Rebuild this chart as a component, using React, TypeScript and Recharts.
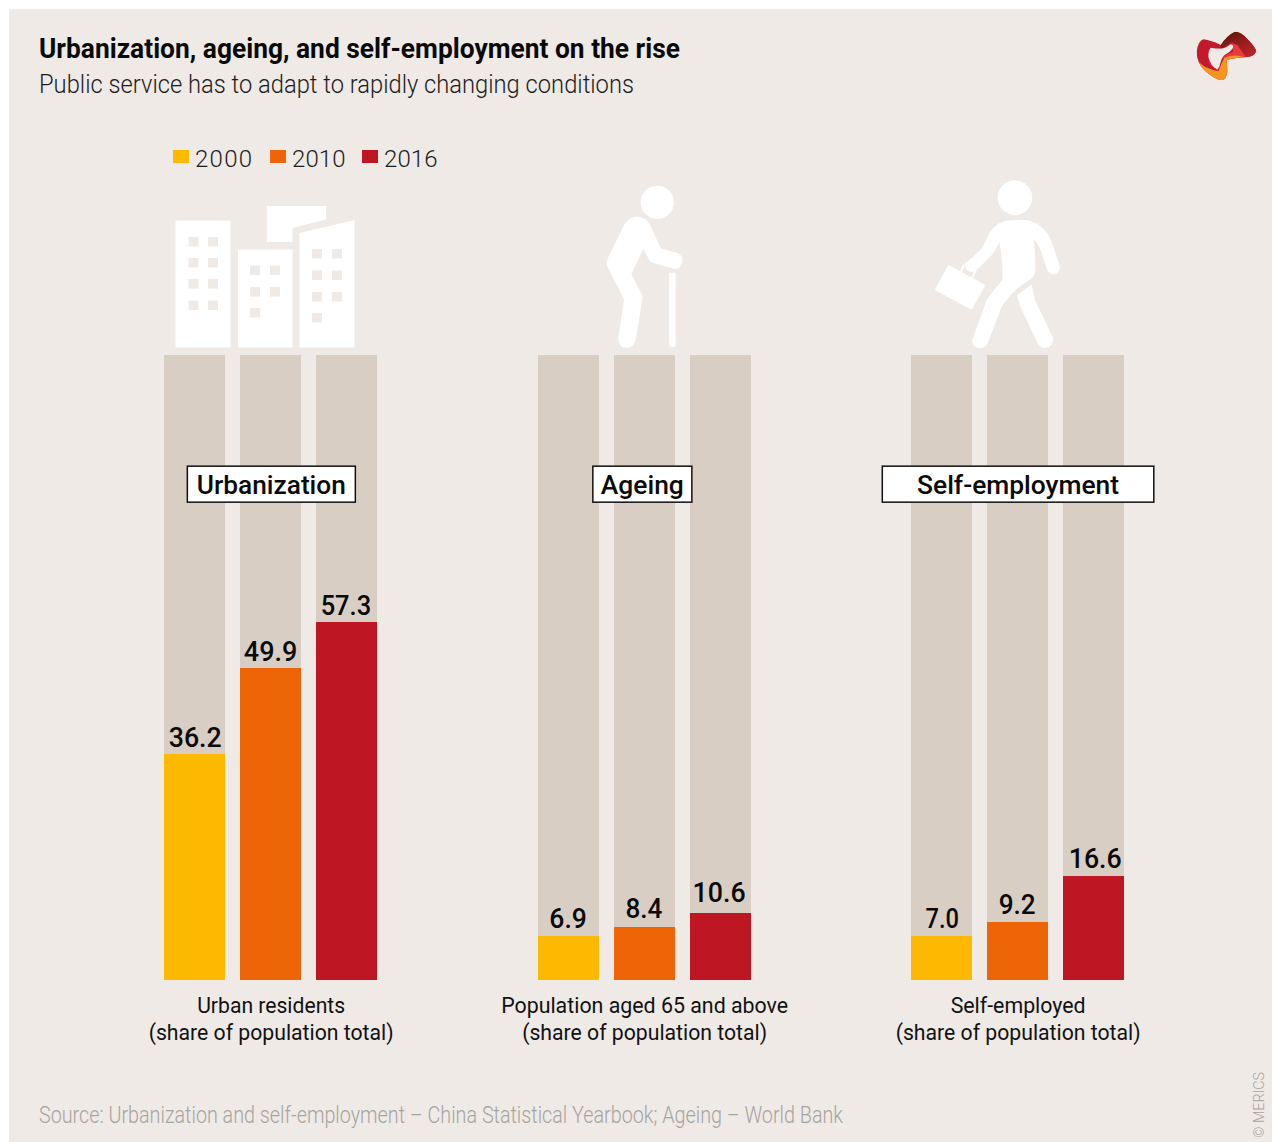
import React from 'react';
import { BarChart, Bar, XAxis, YAxis, Legend, LabelList, ReferenceDot } from 'recharts';

// Indicators (share of population total, percent)
const categories = ['Urbanization', 'Ageing', 'Self-employment'];
const values2000 = [36.2, 6.9, 7.0];
const values2010 = [49.9, 8.4, 9.2];
const values2016 = [57.3, 10.6, 16.6];
const axisLines: Record<string, string[]> = {
  Urbanization: ['Urban residents', '(share of population total)'],
  Ageing: ['Population aged 65 and above', '(share of population total)'],
  'Self-employment': ['Self-employed', '(share of population total)'],
};

const rows = categories.map((name, i) => ({
  name,
  y2000: values2000[i],
  y2010: values2010[i],
  y2016: values2016[i],
}));

const W = 1272;
const H = 1142;
const PAPER = '#efeae6';
const TRACK = '#d8cec4';
const YELLOW = '#fdb900';
const ORANGE = '#ee6508';
const RED = '#be1622';
const FONT = 'Roboto, sans-serif';

// Text squeezed to a set run length: the house face is much narrower than Roboto.
const Fit = ({ x, y, len, size, weight = 400, fill = '#111', anchor = 'start', children, ...rest }: any) => (
  <text
    x={x}
    y={y}
    textLength={len}
    lengthAdjust="spacingAndGlyphs"
    fontFamily={FONT}
    fontSize={size}
    fontWeight={weight}
    fill={fill}
    textAnchor={anchor}
    {...rest}
  >
    {children}
  </text>
);

const lineWidths: Record<string, number> = {
  'Urban residents': 148,
  'Population aged 65 and above': 287,
  'Self-employed': 135,
  '(share of population total)': 245,
};

const AxisTick = ({ x, y, payload }: any) => {
  const lines = axisLines[payload.value] ?? [];
  return (
    <g>
      {lines.map((line, i) => (
        <Fit key={line} x={x} y={y + 33.8 + i * 26.8} len={lineWidths[line]} size={22.5} anchor="middle">
          {line}
        </Fit>
      ))}
    </g>
  );
};

// Value labels sit by hand above their bars; the gap and sideways shift vary a little per label.
const labelSetting: Record<string, { gap: number; dx: number; len: number }> = {
  '36.2': { gap: 7.3, dx: 0.3, len: 53 },
  '6.9': { gap: 8.3, dx: -0.3, len: 37.5 },
  '7.0': { gap: 7.7, dx: 0.3, len: 33.5 },
  '49.9': { gap: 7.3, dx: -0.3, len: 53.5 },
  '8.4': { gap: 8.7, dx: -0.5, len: 37 },
  '9.2': { gap: 8, dx: -0.7, len: 37 },
  '57.3': { gap: 7, dx: -1, len: 50.5 },
  '10.6': { gap: 10.7, dx: -1.3, len: 53 },
  '16.6': { gap: 7.7, dx: 1.3, len: 53 },
};

const ValueLabel = ({ x, y, width, value }: any) => {
  const text = Number(value).toFixed(1);
  const s = labelSetting[text];
  return (
    <Fit
      x={x + width / 2 + s.dx}
      y={Math.round(y) - s.gap}
      len={s.len}
      size={27.5}
      weight={500}
      anchor="middle"
      fill="#0a0a0a"
    >
      {text}
    </Fit>
  );
};

const badgeBoxes: Record<string, { w: number; text: number; dx: number }> = {
  Urbanization: { w: 168, text: 149, dx: 0.2 },
  Ageing: { w: 99, text: 83, dx: -2.3 },
  'Self-employment': { w: 271.5, text: 202, dx: -0.1 },
};

const badgeShape = (name: string) => ({ cx, cy }: any) => {
  const box = badgeBoxes[name];
  const mid = cx + box.dx;
  return (
    <g>
      <rect x={mid - box.w / 2} y={cy - 18} width={box.w} height={36} fill="#fff" stroke="#111" strokeWidth={1.5} />
      <Fit x={mid} y={cy + 10} len={box.text} size={26} weight={500} anchor="middle" fill="#0a0a0a">
        {name}
      </Fit>
    </g>
  );
};

const legendSpacing = [1.3, 0.1, 0.1];

const YearLegend = ({ payload }: any) => (
  <div style={{ display: 'flex', fontFamily: FONT, fontWeight: 300, fontSize: 24, color: '#1c1c1c', lineHeight: '28px' }}>
    {(payload ?? []).map((item: any, i: number) => (
      <div key={item.value} style={{ display: 'flex', width: i === 0 ? 97 : 92 }}>
        <span style={{ width: 16, height: 13, marginTop: 5, background: item.color, marginRight: 6 }} />
        <span style={{ letterSpacing: legendSpacing[i] }}>{item.value}</span>
      </div>
    ))}
  </div>
);

const buildingWindows = [
  [188.5, 237], [208, 237], [188.5, 258], [208, 258], [188.5, 279], [208, 279], [188.5, 300.5], [208, 300.5],
  [250, 265.5], [270, 265.5], [250, 287], [270, 287], [250, 308],
  [312, 249], [332, 249], [312, 270.5], [332, 270.5], [312, 292], [332, 292], [312, 313],
];

const Buildings = () => (
  <g fill="#fff">
    <rect x={175.5} y={220.5} width={55} height={127} />
    <rect x={238} y={249.5} width={54.5} height={98} />
    <path d="M299.5 233 L354.5 220 V347.5 H299.5 Z" />
    <path d="M267 206 H326 V219.5 L292.5 228 V242 H267 Z" />
    {buildingWindows.map(([x, y]) => (
      <rect key={`${x}-${y}`} x={x} y={y} width={10} height={9.5} fill={PAPER} />
    ))}
  </g>
);

const OldPerson = () => (
  <g transform="translate(590 170) scale(0.3333)" fill="#fff">
    <circle cx={202} cy={97} r={50} />
    <path d="M105 160 Q120 140 140 140 Q165 140 178 160 L212 235 L262 249 Q278 255 277 272 Q272 298 252 297 L190 279 Q178 275 175 265 L160 237 L124 312 L155 372 Q158 380 157 388 L138 505 Q134 533 112 533 Q84 533 85 505 L102 388 L52 290 Q48 280 52 268 Z" />
    <path d="M237 308 H257 V522 Q257 531 247 531 Q237 531 237 522 Z" />
  </g>
);

const Commuter = () => (
  <g transform="translate(590 170) scale(0.3333)" fill="#fff">
    <circle cx={1275} cy={83} r={52} />
    <path d="M1250 152 Q1280 149 1310 150 Q1340 155 1362 178 Q1378 195 1385 215 L1410 290 Q1410 312 1390 313 Q1376 312 1372 300 L1350 235 Q1342 218 1330 207 Q1337 240 1336 305 Q1335 315 1325 325 L1285 353 Q1255 378 1235 410 L1197 510 Q1190 535 1170 535 Q1145 532 1147 510 L1190 390 Q1210 360 1238 330 Q1238 265 1228 215 Q1220 235 1208 252 L1163 298 Q1150 312 1133 302 Q1124 295 1125 280 Q1155 258 1178 232 L1198 190 Q1220 155 1250 152 Z" />
    <path d="M1325 343 L1335 390 L1390 505 Q1390 533 1365 535 Q1350 533 1343 520 L1292 412 L1281 376 Z" />
    <path
      d="M1077 291 L1180 347 L1143 413 L1041 358 Z"
      stroke="#fff"
      strokeWidth={10}
      strokeLinejoin="round"
    />
    <path d="M1111 310 L1122 284 M1145 326 L1157 302" stroke="#fff" strokeWidth={6} fill="none" />
  </g>
);

// Ribbon-shaped company mark, built from coloured patches clipped to the ring outline.
const RING =
  'M20 80 Q24 48 40 43 Q65 46 92 60 Q110 32 135 20 Q155 20 172 42 Q200 70 198 80 Q192 95 165 97 Q130 98 110 106 Q112 120 112 140 Q108 165 93 166 Q70 160 45 137 Q20 115 20 80 Z ' +
  'M55 95 Q55 75 62 68 Q85 72 100 70 Q112 66 122 58 Q132 60 130 68 Q120 82 105 89 Q96 95 92 112 Q88 128 83 134 Q60 124 55 95 Z';

const Logo = () => (
  <g transform="translate(1190 25) scale(0.3333)">
    <defs>
      <clipPath id="logoRing">
        <path d={RING} clipRule="evenodd" />
      </clipPath>
      <linearGradient id="logoDark" x1="0.25" y1="0.05" x2="0.8" y2="0.95">
        <stop offset="0" stopColor="#5a1a08" />
        <stop offset="0.55" stopColor="#9f1d20" />
        <stop offset="1" stopColor="#c1202c" />
      </linearGradient>
    </defs>
    <g clipPath="url(#logoRing)">
      <rect x={15} y={15} width={190} height={155} fill="#c3192b" />
      <path d="M92 62 Q110 30 135 15 L205 60 L205 100 L165 97 L150 80 Q145 60 125 50 Q105 66 92 72 Z" fill="url(#logoDark)" />
      <path d="M126 55 L142 60 Q150 72 168 97 L108 107 L98 98 Q110 88 130 80 Z" fill="#e83a3f" />
      <path d="M54 112 Q64 130 86 138 L92 125 L84 128 Q66 122 58 100 Z" fill="#e0174f" />
      <path d="M15 98 Q34 122 56 130 Q72 138 86 138 Q92 118 103 99 Q125 88 150 93 L172 100 L110 110 L120 175 L60 175 L15 130 Z" fill="#f7941d" />
    </g>
  </g>
);

export default function App() {
  return (
    <div style={{ position: 'absolute', left: 0, top: 0, width: W, height: H, background: '#fff', overflow: 'hidden' }}>
      <div style={{ position: 'absolute', left: 9, top: 9, width: W - 9, height: H - 9, background: PAPER }} />
      <svg width={W} height={H} style={{ position: 'absolute', left: 0, top: 0 }}>
        <Fit x={39} y={58.3} len={641} size={27} weight={700} fill="#0a0a0a">
          Urbanization, ageing, and self-employment on the rise
        </Fit>
        <Fit x={39} y={92.7} len={595} size={26} weight={300} fill="#1c1c1c">
          Public service has to adapt to rapidly changing conditions
        </Fit>
        <Fit x={39} y={1123.2} len={804} size={23} weight={300} fill="#a6a4a1">
          Source: Urbanization and self-employment – China Statistical Yearbook; Ageing – World Bank
        </Fit>
        <Fit
          x={0}
          y={0}
          len={66}
          size={15.5}
          weight={300}
          fill="#a6a4a1"
          transform="translate(1263.5 1138) rotate(-90)"
        >
          © MERICS
        </Fit>
        <Buildings />
        <OldPerson />
        <Commuter />
        <Logo />
      </svg>
      <div style={{ position: 'absolute', left: 0, top: 0 }}>
        <BarChart
          width={W}
          height={H}
          data={rows}
          margin={{ top: 355, right: 67.1, bottom: 0, left: 84.4 }}
          barSize={61}
          barGap={15}
        >
          <XAxis
            dataKey="name"
            axisLine={false}
            tickLine={false}
            tickSize={0}
            tickMargin={0}
            height={162.48}
            interval={0}
            tick={<AxisTick />}
          />
          <YAxis hide type="number" domain={[0, 100.08]} />
          <Legend
            layout="horizontal"
            verticalAlign="middle"
            content={<YearLegend />}
            wrapperStyle={{ left: 173, top: 145, right: 'auto', bottom: 'auto', width: 290 }}
          />
          {[
            { key: 'y2000', name: '2000', fill: YELLOW },
            { key: 'y2010', name: '2010', fill: ORANGE },
            { key: 'y2016', name: '2016', fill: RED },
          ].map((s) => (
            <Bar
              key={s.key}
              dataKey={s.key}
              name={s.name}
              fill={s.fill}
              background={{ fill: TRACK, shapeRendering: 'crispEdges' } as any}
              shapeRendering="crispEdges"
              isAnimationActive={false}
            >
              <LabelList dataKey={s.key} content={<ValueLabel />} />
            </Bar>
          ))}
          {categories.map((name) => (
            <ReferenceDot key={name} x={name} y={79.38} shape={badgeShape(name)} />
          ))}
        </BarChart>
      </div>
    </div>
  );
}
